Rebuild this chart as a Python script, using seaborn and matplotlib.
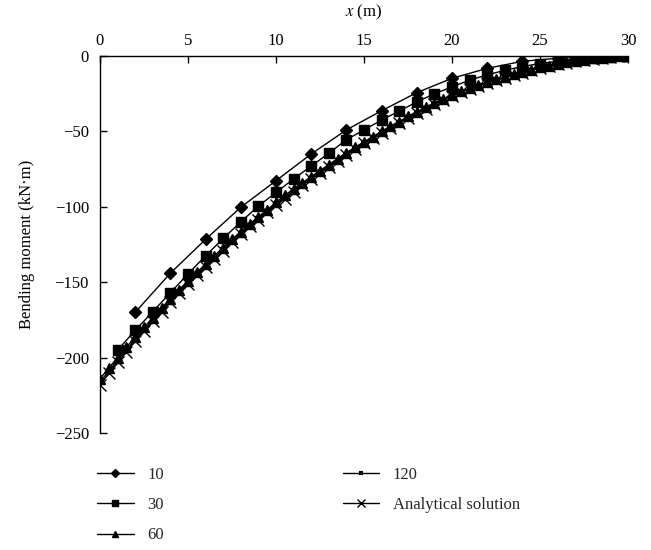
import numpy as np
import pandas as pd
import seaborn as sns
import matplotlib
matplotlib.use("Agg")
import matplotlib.pyplot as plt

# ---------------- data ----------------
x_10 = [2, 4, 6, 8, 10, 12, 14, 16, 18, 20, 22, 24, 26, 28, 30]
m_10 = [-170, -144, -121.6, -100.3, -82.7, -65, -49, -36.3, -24.3, -14.8,
        -8.2, -3.5, -1.5, -0.5, 0]

x_30 = list(range(1, 31))
m_30 = [-195, -182, -169.5, -157, -144.5, -132.5, -121, -110, -99.5, -90.5,
        -81.5, -73, -64.5, -55.5, -49, -42.5, -36.5, -30.5, -25, -20.5,
        -16, -12.5, -9.5, -7, -5, -3.5, -2, -1, -0.5, 0]

x_fine = [i * 0.5 for i in range(61)]
m_60 = [-214, -207, -200, -193, -186.5, -180, -173.5, -167, -161, -155,
        -149, -143.5, -138, -132.5, -127, -121.5, -116.5, -111.5, -106.5, -102,
        -97, -92.5, -88, -84, -80, -76, -72, -68, -64, -60.5,
        -57, -53.5, -50, -46.5, -43.5, -40, -37, -34, -31, -28.5,
        -26, -23.5, -21.5, -19.5, -17.5, -15.5, -14, -12, -10.5, -9,
        -7.5, -6.5, -5, -4, -3, -2.5, -1.5, -1, -0.5, -0.2, 0]
m_120 = [-216, -209, -201.5, -194.5, -188, -181.5, -175, -168.5, -162, -156,
         -150, -144.5, -139, -133.5, -128, -122.5, -117.5, -112.5, -107.5, -103,
         -98, -93.5, -89, -85, -81, -77, -73, -69, -65, -61,
         -57.5, -54, -50.5, -47, -44, -40.5, -37.5, -34.5, -31.5, -29,
         -26, -24, -21.5, -19.5, -17.5, -16, -14, -12.5, -11, -9.5,
         -8, -6.5, -5.5, -4.5, -3.5, -2.5, -2, -1.2, -0.7, -0.3, 0]
m_analytical = [-218, -210.5, -203, -196, -189, -182.5, -176, -169.5, -163, -157,
                -151, -145.5, -140, -134.5, -129, -123.5, -118, -113, -108.5, -103.5,
                -99, -94.5, -90, -85.5, -81.5, -77.5, -73.5, -69.5, -65.5, -61.5,
                -58, -54.5, -51, -47.5, -44.5, -41, -38, -35, -32, -29,
                -26.5, -24, -22, -20, -18, -16, -14.5, -12.5, -11, -9.5,
                -8, -6.5, -5.5, -4.5, -3.5, -2.5, -2, -1.3, -0.8, -0.3, 0]

labels = ["10", "30", "60", "120", "Analytical solution"]
x_ticks = [0, 5, 10, 15, 20, 25, 30]
y_ticks = [0, -50, -100, -150, -200, -250]

# ---------------- style ----------------
sns.set_theme(style="white")
plt.rcParams["font.family"] = ["Liberation Serif", "DejaVu Serif"]
plt.rcParams["mathtext.fontset"] = "stix"
plt.rcParams["axes.unicode_minus"] = True

fig = plt.figure(figsize=(6.51, 5.5), dpi=100)
ax = fig.add_axes([100 / 651, 1 - 433 / 550, 528 / 651, (433 - 56) / 550])

series = [
    (x_10, m_10, "D", 6, 1.0),
    (x_30, m_30, "s", 6.5, 1.0),
    (x_fine, m_60, "^", 7, 1.0),
    (x_fine, m_120, "_", 5, 3.0),
    (x_fine, m_analytical, "x", 8, 1.0),
]
for (xs, ms, mk, msz, mew), lab in zip(series, labels):
    df = pd.DataFrame({"x": xs, "m": ms})
    sns.lineplot(data=df, x="x", y="m", ax=ax, color="black", marker=mk,
                 markersize=msz, markeredgewidth=mew, markeredgecolor="black",
                 linewidth=1.0, estimator=None, sort=False, label=lab)
handles, labs = ax.get_legend_handles_labels()
if ax.get_legend() is not None:
    ax.get_legend().remove()

ax.set_xlim(0, 30)
ax.set_ylim(-250, 0)
ax.set_xticks(x_ticks)
ax.set_yticks(y_ticks)
ax.xaxis.tick_top()
ax.xaxis.set_label_position("top")
ax.tick_params(axis="both", direction="in", length=5, width=1, colors="black",
               labelsize=12)
ax.tick_params(axis="x", top=True, bottom=False, pad=5)
ax.tick_params(axis="y", left=True, right=False, pad=8)
for side in ["bottom", "right"]:
    ax.spines[side].set_visible(False)
for side in ["top", "left"]:
    ax.spines[side].set_visible(True)
    ax.spines[side].set_color("black")
    ax.spines[side].set_linewidth(1.0)
ax.set_facecolor("white")
ax.grid(False)

ax.set_xlabel(r"$\mathit{x}$ (m)", fontsize=12, labelpad=12, color="black")
ax.set_ylabel("Bending moment (kN·m)", fontsize=12, labelpad=14, color="black")

fig.legend(handles, labs, loc="upper left", bbox_to_anchor=(97 / 651, 1 - 467 / 550),
           ncol=2, frameon=False, fontsize=12, handlelength=2.2, markerscale=0.7,
           handletextpad=0.8, labelspacing=0.85, columnspacing=10.75,
           borderaxespad=0, borderpad=0)

fig.savefig("out.png", dpi=100, facecolor="white")
